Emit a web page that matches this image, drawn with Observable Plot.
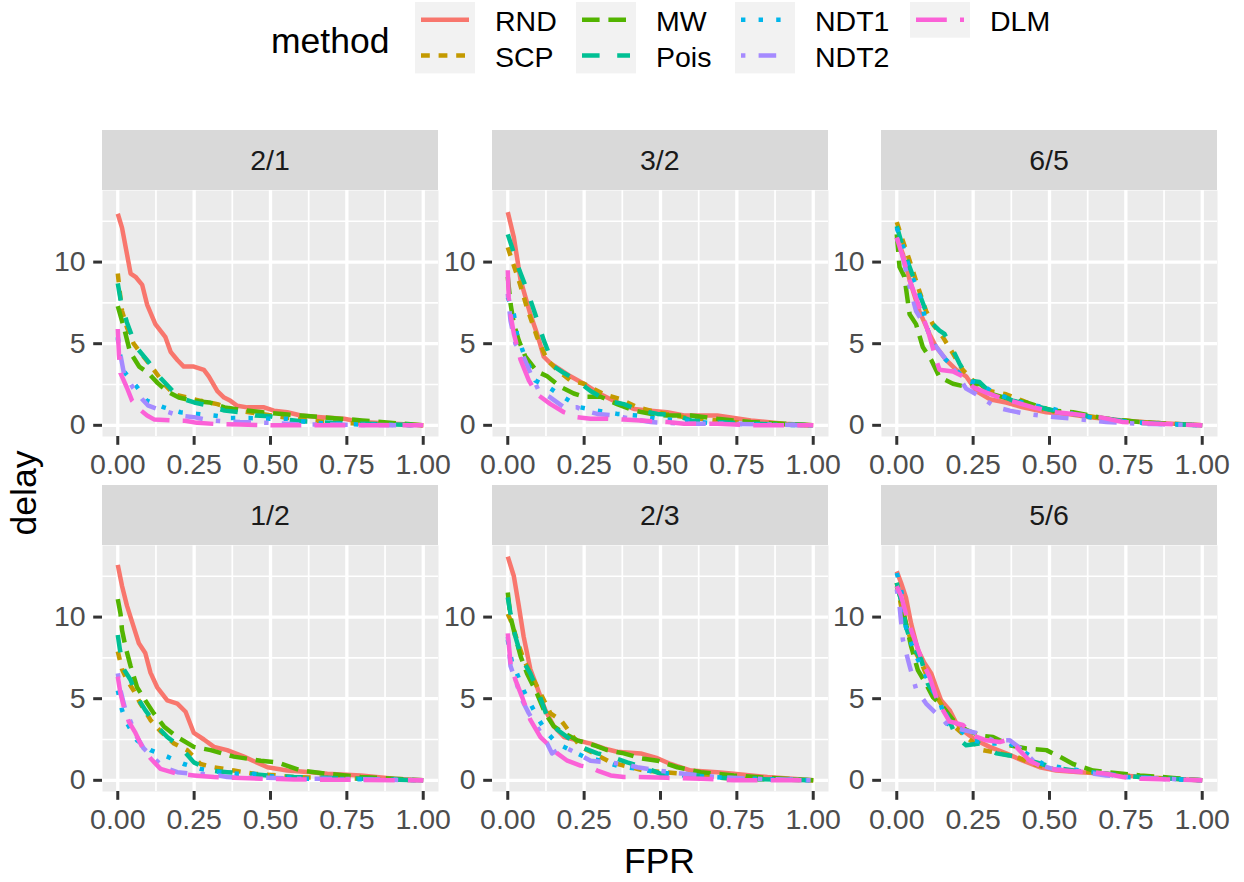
<!DOCTYPE html>
<html>
<head>
<meta charset="utf-8">
<script src="https://cdn.jsdelivr.net/npm/d3@7"></script>
<script src="https://cdn.jsdelivr.net/npm/@observablehq/plot@0.6"></script>
<style>
  html, body { margin: 0; padding: 0; background: #fff; }
  #wrap { position: relative; width: 1244px; height: 882px; background: #fff; overflow: hidden;
          font-family: "Liberation Sans", Arial, Helvetica, sans-serif; }
  .strip { position: absolute; background: #D9D9D9; color: #1A1A1A; font-size: 28.5px;
           display: flex; align-items: center; justify-content: center; }
  .panel { position: absolute; }
  .title { position: absolute; color: #000; font-size: 35.5px; white-space: nowrap; }
</style>
</head>
<body>
<div id="wrap"></div>
<script>
// ---------------- data ----------------
const panels = ["2/1", "3/2", "6/5", "1/2", "2/3", "5/6"];
const methods = ["RND", "SCP", "MW", "Pois", "NDT1", "NDT2", "DLM"];
const methodColors = ["#F8766D", "#C49A00", "#53B400", "#00C094", "#00B6EB", "#A58AFF", "#FB61D7"];
const methodLinetypes = ["solid", "22", "42", "44", "13", "1343", "73"];
const xMajor = [0, 0.25, 0.5, 0.75, 1];
const xMinor = [0.125, 0.375, 0.625, 0.875];
const yMajor = [0, 5, 10];
const yMinor = [2.5, 7.5, 12.5];

// panel 2/1  ([FPR, delay] pairs)
const RND_21 = [[0,12.96],[0.014,12.1],[0.042,9.3],[0.058,9.1],[0.08,8.6],[0.096,7.4],[0.123,6.2],[0.156,5.4],[0.173,4.5],[0.195,4.0],[0.216,3.6],[0.249,3.6],[0.282,3.4],[0.298,3.0],[0.326,2.1],[0.348,1.7],[0.369,1.5],[0.391,1.2],[0.424,1.1],[0.479,1.1],[0.511,0.9],[0.555,0.8],[0.599,0.6],[0.665,0.5],[0.741,0.4],[0.796,0.2],[0.905,0.1],[1,0]];
const SCP_21 = [[0,9.3],[0.007,8.1],[0.014,7.0],[0.03,6.0],[0.052,5.0],[0.085,4.2],[0.118,3.4],[0.151,2.55],[0.184,1.9],[0.227,1.7],[0.271,1.5],[0.326,1.3],[0.391,0.9],[0.468,0.7],[0.577,0.4],[0.686,0.2],[0.796,0.1],[1,0]];
const MW_21 = [[0,7.3],[0.02,6.0],[0.04,4.5],[0.07,3.6],[0.1,3.2],[0.13,2.6],[0.16,2.1],[0.2,1.7],[0.25,1.5],[0.3,1.4],[0.35,1.1],[0.4,0.95],[0.5,0.75],[0.6,0.6],[0.7,0.45],[0.8,0.3],[0.9,0.15],[1,0]];
const Pois_21 = [[0,8.7],[0.01,7.6],[0.03,6.3],[0.06,4.8],[0.1,3.9],[0.13,3.1],[0.17,2.3],[0.2,1.7],[0.25,1.4],[0.3,1.2],[0.35,0.9],[0.4,0.8],[0.45,0.6],[0.5,0.55],[0.55,0.35],[0.6,0.25],[0.7,0.15],[0.8,0.1],[0.9,0.05],[1,0]];
const NDT1_21 = [[0,5.4],[0.01,4.0],[0.02,3.3],[0.063,2.35],[0.096,1.5],[0.151,1.1],[0.205,0.8],[0.26,0.7],[0.315,0.6],[0.37,0.45],[0.43,0.45],[0.49,0.4],[0.555,0.4],[0.62,0.2],[0.686,0.1],[0.8,0.05],[1,0]];
const NDT2_21 = [[0,5.3],[0.01,4.2],[0.02,3.2],[0.05,2.3],[0.08,1.6],[0.1,1.2],[0.13,1.0],[0.15,0.9],[0.2,0.6],[0.25,0.5],[0.3,0.3],[0.35,0.25],[0.4,0.2],[0.5,0.15],[0.6,0.05],[0.7,0.05],[0.8,0.02],[1,0]];
const DLM_21 = [[0,5.9],[0.004,4.3],[0.009,3.2],[0.03,2.3],[0.047,1.5],[0.07,1.0],[0.096,0.6],[0.12,0.35],[0.173,0.3],[0.22,0.28],[0.26,0.15],[0.32,0.08],[0.4,0.05],[0.5,0],[1,0]];

// panel 3/2
const RND_32 = [[0,13.06],[0.02,11.5],[0.042,8.9],[0.074,6.8],[0.096,5.6],[0.118,4.2],[0.14,3.8],[0.173,3.4],[0.205,3.0],[0.249,2.55],[0.304,1.9],[0.358,1.4],[0.413,1.0],[0.468,0.9],[0.522,0.8],[0.577,0.6],[0.686,0.6],[0.796,0.3],[0.905,0.1],[1,0]];
const SCP_32 = [[0,10.9],[0.014,10.1],[0.036,8.9],[0.063,7.2],[0.096,5.4],[0.129,4.0],[0.162,3.4],[0.205,2.75],[0.249,2.55],[0.315,1.9],[0.37,1.6],[0.424,1.1],[0.49,0.8],[0.577,0.5],[0.686,0.3],[0.796,0.1],[1,0]];
const MW_32 = [[0,9.1],[0.009,7.45],[0.02,6.2],[0.036,5.2],[0.058,4.2],[0.096,3.3],[0.129,3.0],[0.173,2.35],[0.216,1.95],[0.249,1.75],[0.304,1.75],[0.358,1.3],[0.413,0.9],[0.468,0.7],[0.522,0.6],[0.6,0.6],[0.686,0.4],[0.796,0.2],[0.905,0.1],[1,0]];
const Pois_32 = [[0,11.7],[0.014,10.9],[0.036,9.6],[0.063,8.3],[0.09,6.8],[0.118,5.2],[0.151,3.6],[0.184,3.2],[0.227,2.75],[0.271,2.1],[0.326,1.5],[0.38,1.3],[0.435,0.9],[0.49,0.7],[0.555,0.6],[0.6,0.3],[0.686,0.2],[0.796,0.1],[1,0]];
const NDT1_32 = [[0,7.85],[0.02,6.8],[0.03,5.6],[0.052,4.4],[0.09,2.75],[0.14,2.25],[0.184,1.7],[0.238,1.1],[0.293,0.9],[0.358,0.7],[0.424,0.6],[0.49,0.4],[0.577,0.3],[0.686,0.1],[1,0]];
const NDT2_32 = [[0,8.06],[0.009,6.4],[0.025,5.0],[0.047,4.4],[0.074,3.2],[0.102,2.1],[0.14,1.7],[0.184,1.1],[0.227,1.1],[0.249,0.9],[0.293,0.7],[0.348,0.6],[0.402,0.4],[0.468,0.2],[0.577,0.1],[0.686,0.1],[1,0]];
const DLM_32 = [[0,9.5],[0.003,7.85],[0.009,6.8],[0.02,5.6],[0.042,4.0],[0.069,2.75],[0.096,1.9],[0.14,1.3],[0.184,0.8],[0.227,0.5],[0.271,0.4],[0.326,0.4],[0.38,0.35],[0.435,0.3],[0.522,0.2],[0.577,0.1],[0.686,0.1],[0.796,0],[1,0]];

// panel 6/5
const RND_65 = [[0,11.5],[0.02,10.5],[0.042,8.9],[0.074,7.0],[0.107,5.6],[0.129,4.8],[0.162,4.0],[0.195,3.4],[0.227,3.0],[0.26,2.1],[0.304,1.6],[0.358,1.4],[0.413,1.1],[0.49,0.8],[0.555,0.7],[0.632,0.5],[0.74,0.3],[0.85,0.15],[1,0]];
const SCP_65 = [[0,12.45],[0.02,11.3],[0.042,10.1],[0.069,8.5],[0.096,7.0],[0.118,6.2],[0.151,5.4],[0.184,4.4],[0.216,3.4],[0.249,2.75],[0.304,2.1],[0.358,1.9],[0.413,1.5],[0.49,0.9],[0.577,0.7],[0.686,0.4],[0.796,0.2],[1,0]];
const MW_65 = [[0,11.7],[0.009,9.7],[0.025,9.1],[0.042,6.8],[0.063,6.2],[0.085,4.8],[0.113,4.0],[0.14,2.95],[0.184,2.55],[0.227,2.35],[0.271,2.55],[0.315,1.9],[0.37,1.6],[0.424,1.4],[0.511,0.9],[0.577,0.8],[0.686,0.4],[0.796,0.2],[1,0]];
const Pois_65 = [[0,12.2],[0.02,10.9],[0.042,9.7],[0.074,8.06],[0.107,6.4],[0.14,5.8],[0.156,5.6],[0.184,4.6],[0.205,3.8],[0.238,2.75],[0.271,2.65],[0.293,2.25],[0.337,1.9],[0.38,1.5],[0.435,1.3],[0.49,1.0],[0.577,0.7],[0.686,0.4],[0.796,0.15],[1,0]];
const NDT1_65 = [[0,12.1],[0.02,11.0],[0.042,9.5],[0.074,8.06],[0.107,5.4],[0.14,4.4],[0.184,3.6],[0.227,2.75],[0.271,2.55],[0.326,1.9],[0.38,1.6],[0.424,1.3],[0.49,1.1],[0.577,0.7],[0.686,0.3],[0.78,0.2],[0.85,0.1],[1,0]];
const NDT2_65 = [[0,11.5],[0.02,10.3],[0.042,8.5],[0.063,7.0],[0.096,6.0],[0.129,4.8],[0.162,4.0],[0.195,3.2],[0.227,2.25],[0.26,1.9],[0.293,1.5],[0.326,1.1],[0.37,0.9],[0.424,0.7],[0.468,0.6],[0.522,0.5],[0.577,0.4],[0.686,0.2],[0.796,0.1],[1,0]];
const DLM_65 = [[0,11.5],[0.02,10.3],[0.042,8.9],[0.074,7.25],[0.102,5.8],[0.129,4.0],[0.14,3.4],[0.184,3.3],[0.216,3.0],[0.249,2.35],[0.293,2.0],[0.337,1.7],[0.391,1.4],[0.446,1.1],[0.522,0.8],[0.577,0.7],[0.664,0.5],[0.74,0.2],[0.85,0.1],[1,0]];

// panel 1/2
const RND_12 = [[0,13.2],[0.014,11.9],[0.03,10.7],[0.052,9.4],[0.069,8.4],[0.09,7.8],[0.107,6.6],[0.129,5.7],[0.162,4.9],[0.195,4.7],[0.222,4.2],[0.249,2.9],[0.282,2.5],[0.315,2.05],[0.358,1.85],[0.413,1.45],[0.49,0.8],[0.555,0.6],[0.632,0.5],[0.686,0.4],[0.796,0.3],[0.905,0.1],[1,0]];
const SCP_12 = [[0,7.9],[0.014,6.8],[0.03,6.15],[0.052,5.5],[0.074,4.7],[0.107,3.7],[0.14,3.0],[0.184,2.25],[0.227,1.85],[0.271,1.0],[0.315,0.8],[0.38,0.6],[0.446,0.4],[0.522,0.3],[0.577,0.2],[0.686,0.15],[1,0]];
const MW_12 = [[0,11.1],[0.009,10.2],[0.014,9.2],[0.025,8.2],[0.042,7.0],[0.063,5.7],[0.09,4.9],[0.118,4.1],[0.151,3.3],[0.195,2.65],[0.249,2.05],[0.304,1.85],[0.38,1.45],[0.468,1.2],[0.522,1.1],[0.6,0.6],[0.686,0.4],[0.796,0.2],[0.905,0.1],[1,0]];
const Pois_12 = [[0,8.9],[0.007,8.0],[0.02,6.8],[0.042,6.15],[0.063,5.1],[0.09,4.3],[0.129,3.3],[0.162,2.65],[0.205,2.05],[0.249,1.1],[0.304,0.6],[0.358,0.5],[0.424,0.4],[0.49,0.3],[0.577,0.2],[0.686,0.15],[0.796,0.1],[1,0]];
const NDT1_12 = [[0,5.5],[0.014,4.3],[0.03,3.5],[0.063,2.45],[0.107,1.85],[0.162,1.45],[0.216,1.0],[0.271,0.7],[0.337,0.5],[0.391,0.4],[0.446,0.4],[0.522,0.2],[0.62,0.1],[0.686,0.1],[1,0]];
const NDT2_12 = [[0,6.55],[0.009,5.5],[0.025,4.3],[0.042,3.6],[0.063,2.65],[0.085,1.95],[0.118,1.35],[0.151,0.8],[0.195,0.5],[0.249,0.4],[0.315,0.35],[0.358,0.2],[0.424,0.15],[0.49,0.15],[0.577,0.1],[0.686,0.1],[1,0]];
const DLM_12 = [[0,6.35],[0.009,5.3],[0.02,4.5],[0.036,3.6],[0.058,2.9],[0.08,2.05],[0.107,1.35],[0.14,0.7],[0.195,0.4],[0.249,0.3],[0.315,0.2],[0.38,0.15],[0.468,0.1],[0.577,0.05],[1,0]];

// panel 2/3
const RND_23 = [[0,13.7],[0.02,12.5],[0.036,10.7],[0.052,8.8],[0.074,6.8],[0.096,5.7],[0.123,4.3],[0.151,3.3],[0.184,2.65],[0.227,2.45],[0.271,2.25],[0.315,1.95],[0.358,1.75],[0.435,1.65],[0.49,1.35],[0.533,1.0],[0.6,0.6],[0.686,0.5],[0.74,0.4],[0.85,0.2],[1,0]];
const SCP_23 = [[0,10.2],[0.014,9.6],[0.03,8.6],[0.052,7.4],[0.085,6.15],[0.113,5.1],[0.14,4.1],[0.173,3.7],[0.205,2.9],[0.238,2.05],[0.282,1.65],[0.337,1.1],[0.402,0.8],[0.446,0.6],[0.511,0.5],[0.577,0.4],[0.664,0.2],[0.74,0.1],[1,0]];
const MW_23 = [[0,11.5],[0.009,10.0],[0.025,8.8],[0.042,7.6],[0.063,6.55],[0.096,5.3],[0.123,4.1],[0.151,3.3],[0.184,2.9],[0.227,2.45],[0.282,2.15],[0.326,1.85],[0.38,1.65],[0.435,1.35],[0.49,1.2],[0.555,0.8],[0.632,0.5],[0.74,0.3],[0.85,0.15],[1,0]];
const Pois_23 = [[0,11.2],[0.009,10.2],[0.025,8.8],[0.047,7.4],[0.074,6.55],[0.102,5.3],[0.129,3.9],[0.162,3.1],[0.195,2.65],[0.238,2.05],[0.293,1.65],[0.337,1.45],[0.391,1.1],[0.446,0.8],[0.501,0.4],[0.577,0.4],[0.664,0.2],[0.74,0.1],[1,0]];
const NDT1_23 = [[0,8.6],[0.014,7.2],[0.03,6.55],[0.052,5.5],[0.074,4.7],[0.102,3.7],[0.129,2.9],[0.162,2.25],[0.205,1.85],[0.249,1.45],[0.304,1.2],[0.358,0.9],[0.424,0.7],[0.49,0.5],[0.577,0.3],[0.664,0.2],[0.796,0.1],[1,0]];
const NDT2_23 = [[0,8.8],[0.009,7.0],[0.025,6.15],[0.047,4.9],[0.069,4.1],[0.096,3.3],[0.129,2.25],[0.145,1.65],[0.184,2.05],[0.227,1.65],[0.271,1.2],[0.326,1.1],[0.38,1.0],[0.424,0.8],[0.49,0.6],[0.577,0.4],[0.686,0.2],[0.796,0.1],[1,0]];
const DLM_23 = [[0,9.0],[0.009,7.2],[0.025,6.15],[0.047,5.1],[0.074,3.7],[0.107,2.65],[0.129,2.25],[0.162,1.65],[0.195,1.2],[0.238,0.9],[0.271,0.8],[0.293,0.6],[0.337,0.3],[0.38,0.2],[0.424,0.2],[0.522,0.15],[0.632,0.1],[0.74,0],[1,0]];

// panel 5/6
const RND_56 = [[0,12.8],[0.014,12.1],[0.03,11.2],[0.047,9.6],[0.069,8.0],[0.09,7.2],[0.113,6.55],[0.129,5.7],[0.145,4.9],[0.173,4.3],[0.195,3.5],[0.227,2.9],[0.26,2.45],[0.304,2.05],[0.358,1.65],[0.413,1.2],[0.468,0.8],[0.522,0.6],[0.6,0.5],[0.686,0.4],[0.74,0.3],[0.85,0.15],[1,0]];
const SCP_56 = [[0,12.1],[0.014,10.7],[0.03,9.6],[0.052,8.2],[0.085,7.0],[0.118,5.5],[0.151,4.5],[0.189,3.3],[0.227,2.65],[0.282,1.85],[0.337,1.65],[0.391,1.45],[0.446,1.0],[0.511,0.7],[0.577,0.6],[0.686,0.4],[0.796,0.2],[1,0]];
const MW_56 = [[0,11.9],[0.014,11.1],[0.03,9.6],[0.047,8.2],[0.069,6.75],[0.096,5.9],[0.118,5.1],[0.151,4.5],[0.184,3.7],[0.227,3.1],[0.271,2.75],[0.315,2.65],[0.369,2.15],[0.424,1.95],[0.49,1.85],[0.533,1.45],[0.577,1.0],[0.643,0.6],[0.686,0.5],[0.796,0.3],[0.905,0.15],[1,0]];
const Pois_56 = [[0,12.1],[0.014,11.0],[0.03,9.4],[0.052,8.2],[0.08,7.4],[0.102,5.9],[0.123,5.3],[0.162,4.1],[0.195,2.65],[0.227,2.15],[0.271,2.25],[0.326,1.65],[0.391,1.45],[0.457,1.1],[0.511,0.8],[0.577,0.6],[0.686,0.4],[0.796,0.2],[1,0]];
const NDT1_56 = [[0,12.7],[0.014,11.7],[0.03,9.4],[0.047,8.4],[0.069,7.4],[0.096,6.35],[0.118,5.5],[0.14,4.9],[0.162,3.5],[0.205,3.1],[0.249,2.45],[0.304,2.25],[0.37,2.25],[0.424,1.65],[0.479,1.0],[0.533,0.8],[0.6,0.6],[0.675,0.4],[0.751,0.2],[0.85,0.1],[1,0]];
const NDT2_56 = [[0,11.7],[0.009,10.7],[0.02,8.6],[0.042,7.0],[0.063,5.6],[0.096,4.7],[0.129,4.1],[0.173,3.3],[0.216,3.1],[0.26,2.9],[0.315,2.45],[0.37,2.45],[0.413,1.85],[0.457,1.0],[0.511,0.7],[0.577,0.6],[0.686,0.3],[0.796,0.15],[1,0]];
const DLM_56 = [[0,11.9],[0.014,11.3],[0.03,10.2],[0.047,9.2],[0.063,8.4],[0.085,7.2],[0.107,6.35],[0.129,5.1],[0.151,4.3],[0.173,3.6],[0.216,3.4],[0.249,2.75],[0.293,2.45],[0.337,2.35],[0.358,2.45],[0.391,2.05],[0.435,1.2],[0.479,0.8],[0.522,0.65],[0.577,0.55],[0.643,0.5],[0.686,0.4],[0.74,0.2],[0.796,0.1],[1,0]];

// ---------------- assemble table ----------------
const seriesByPanel = {
  "2/1": [RND_21, SCP_21, MW_21, Pois_21, NDT1_21, NDT2_21, DLM_21],
  "3/2": [RND_32, SCP_32, MW_32, Pois_32, NDT1_32, NDT2_32, DLM_32],
  "6/5": [RND_65, SCP_65, MW_65, Pois_65, NDT1_65, NDT2_65, DLM_65],
  "1/2": [RND_12, SCP_12, MW_12, Pois_12, NDT1_12, NDT2_12, DLM_12],
  "2/3": [RND_23, SCP_23, MW_23, Pois_23, NDT1_23, NDT2_23, DLM_23],
  "5/6": [RND_56, SCP_56, MW_56, Pois_56, NDT1_56, NDT2_56, DLM_56]
};
const rows = panels.flatMap(p => seriesByPanel[p].flatMap((s, i) =>
  s.map(([fpr, delay]) => ({panel: p, method: methods[i], fpr, delay}))));

// ---------------- styling ----------------
const FONT = '"Liberation Sans", Arial, Helvetica, sans-serif';
const LW = 4.5;          // data line width (px)
const DU = 4.4;          // dash unit (px)
const dashFor = lt => lt === "solid" ? null : lt.split("").map(c => parseInt(c, 16) * DU).join(",");

const PW = 336, PH = 246, ML = 72, MB = 56;
const colLeft = [102, 491.7, 881];
const stripTop = [130, 485];
const stripH = 60;

const yMax = d3.max(rows, d => d.delay);
const xMaxData = d3.max(rows, d => d.fpr), xMinData = d3.min(rows, d => d.fpr);
const xPad = (xMaxData - xMinData) * 0.05;
const yDomain = [-0.05 * yMax, 1.05 * yMax];
const xDomain = [xMinData - xPad, xMaxData + xPad];

const wrap = document.getElementById("wrap");

panels.forEach((p, k) => {
  const col = k % 3, row = Math.floor(k / 3);
  const left = colLeft[col];
  const top = stripTop[row];

  const strip = document.createElement("div");
  strip.className = "strip";
  strip.style.left = left + "px";
  strip.style.top = top + "px";
  strip.style.width = PW + "px";
  strip.style.height = stripH + "px";
  strip.textContent = p;
  wrap.appendChild(strip);

  const data = rows.filter(d => d.panel === p);
  const chart = Plot.plot({
    width: PW + ML,
    height: PH + MB,
    marginLeft: ML, marginRight: 0, marginTop: 0, marginBottom: MB,
    style: {fontFamily: FONT, background: "transparent", overflow: "visible", color: "#4D4D4D"},
    x: {domain: xDomain, label: null},
    y: {domain: yDomain, label: null},
    color: {domain: methods, range: methodColors},
    marks: [
      Plot.frame({fill: "#EBEBEB"}),
      Plot.ruleX(xMinor, {stroke: "#FFFFFF", strokeWidth: 1.7}),
      Plot.ruleY(yMinor, {stroke: "#FFFFFF", strokeWidth: 1.7}),
      Plot.ruleX(xMajor, {stroke: "#FFFFFF", strokeWidth: 3.3}),
      Plot.ruleY(yMajor, {stroke: "#FFFFFF", strokeWidth: 3.3}),
      ...methods.map((m, i) => Plot.line(data.filter(d => d.method === m), {
        x: "fpr", y: "delay", stroke: "method",
        strokeWidth: LW, strokeDasharray: dashFor(methodLinetypes[i]),
        strokeLinecap: "butt", strokeLinejoin: "round"
      })),
      Plot.axisX(xMajor, {tickFormat: d3.format(".2f"), tickSize: 8.8, tickPadding: 8,
        fontSize: 28.5, fill: "#4D4D4D", stroke: "#333333", strokeWidth: 3, label: null}),
      Plot.axisY(yMajor, {tickFormat: d3.format("d"), tickSize: 8.8, tickPadding: 8,
        fontSize: 28.5, fill: "#4D4D4D", stroke: "#333333", strokeWidth: 3, label: null})
    ]
  });
  chart.classList.add("panel");
  chart.style.position = "absolute";
  chart.style.left = (left - ML) + "px";
  chart.style.top = (top + stripH) + "px";
  wrap.appendChild(chart);
});

// axis titles
const fpr = document.createElement("div");
fpr.className = "title";
fpr.textContent = "FPR";
fpr.style.left = "0px"; fpr.style.width = "1319px";
fpr.style.textAlign = "center";
fpr.style.top = "840px";
fpr.style.lineHeight = "42px";
wrap.appendChild(fpr);

const ysvg = d3.create("svg").attr("width", 60).attr("height", 882)
  .style("position", "absolute").style("left", "0px").style("top", "0px");
ysvg.append("text").attr("transform", "translate(36,493) rotate(-90)")
  .attr("text-anchor", "middle").attr("font-family", FONT).attr("font-size", 35.5)
  .attr("fill", "#000").text("delay");
wrap.appendChild(ysvg.node());

// legend
const lg = d3.create("svg").attr("width", 1244).attr("height", 90)
  .style("position", "absolute").style("left", "0px").style("top", "0px")
  .attr("font-family", FONT);
lg.append("text").attr("x", 271).attr("y", 53).attr("font-size", 35.5).attr("fill", "#000").text("method");
const boxX = [415, 576, 735, 910];
const rowY = [2, 37.7];
const keyH = 35.7, keyW = 60;
methods.forEach((m, i) => {
  const c = Math.floor(i / 2), r = i % 2;
  const bx = boxX[c], by = rowY[r];
  if (r === 0) lg.append("rect").attr("x", bx).attr("y", by).attr("width", keyW)
    .attr("height", (i + 1 < methods.length && Math.floor((i + 1) / 2) === c) ? keyH * 2 : keyH)
    .attr("fill", "#F2F2F2");
});
methods.forEach((m, i) => {
  const c = Math.floor(i / 2), r = i % 2;
  const bx = boxX[c], by = rowY[r];
  const cy = by + keyH / 2;
  const ln = lg.append("line").attr("x1", bx + keyW * 0.1).attr("x2", bx + keyW * 0.9)
    .attr("y1", cy).attr("y2", cy).attr("stroke", methodColors[i]).attr("stroke-width", LW)
    .attr("stroke-linecap", "butt");
  const da = dashFor(methodLinetypes[i]);
  if (da) ln.attr("stroke-dasharray", da);
  lg.append("text").attr("x", bx + keyW + 20).attr("y", cy + 11.5).attr("font-size", 28.5)
    .attr("fill", "#000").text(m);
});
wrap.appendChild(lg.node());
</script>
</body>
</html>
